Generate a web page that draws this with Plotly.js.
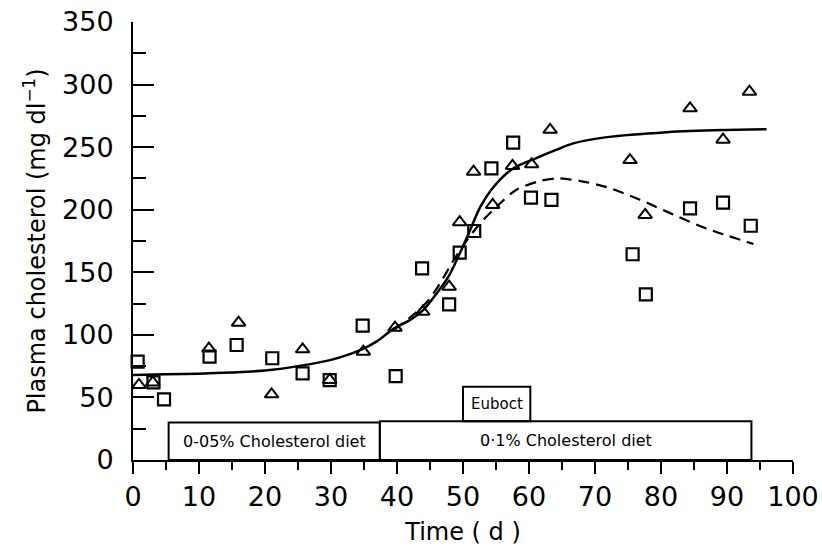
<!DOCTYPE html>
<html>
<head>
<meta charset="utf-8">
<script src="https://cdn.plot.ly/plotly-3.0.1.min.js"></script>
<style>html,body{margin:0;padding:0;background:#fff;}#chart{width:822px;height:554px;}</style>
</head>
<body>
<div id="chart"></div>
<script>
// Observed data: squares
const squareTime = [0.7, 3.1, 4.7, 11.6, 15.7, 21.1, 25.7, 29.8, 34.8, 39.8, 43.8, 47.9, 49.5, 51.7, 54.3, 57.6, 60.3, 63.4, 75.7, 77.7, 84.4, 89.4, 93.6];
const squareChol = [78.6, 62, 48.5, 82.6, 91.9, 81.3, 69.3, 63.9, 107.3, 67.1, 153.2, 124.4, 165.7, 183, 233, 253.6, 209.6, 207.8, 164.4, 132.4, 201, 205.6, 187.2];
// Observed data: triangles
const triTime = [0.9, 3.0, 11.5, 16.0, 21.0, 25.7, 29.8, 34.9, 39.7, 43.9, 47.9, 49.5, 51.6, 54.5, 57.5, 60.4, 63.2, 75.3, 77.6, 84.4, 89.4, 93.4];
const triChol = [60, 62, 89, 109.7, 52.5, 88.4, 64, 86.6, 105.7, 118.5, 138.5, 190, 230.4, 203.8, 235, 236.3, 263.8, 239.7, 195.8, 281, 256, 294.3];
// Fitted curves
const solidTime = [0, 5, 10, 15, 20, 25, 30, 34.5, 37, 39.5, 42, 44, 46, 47.8, 49.5, 51.1, 52.6, 54.6, 57.6, 61.2, 64.2, 66.7, 71.8, 80.9, 89.4, 96];
const solidChol = [68, 68.5, 69, 70, 71.5, 75, 80, 88, 95, 105, 112, 120, 133, 146.5, 165, 184, 202, 218, 233, 241.5, 248, 253, 258, 262, 263.7, 264.3];
const dashTime = [39.5, 42, 44.5, 46.5, 48.5, 50, 51.5, 53.1, 55.6, 58.1, 61.7, 64.5, 68.2, 71.8, 76.8, 81.9, 86.9, 94];
const dashChol = [104, 114, 126, 141, 159, 171, 182, 192, 205, 216, 223, 225, 222.5, 218, 208, 196, 185, 172.6];
// Treatment periods
const periodLabels = ['0-05% Cholesterol diet', '0·1% Cholesterol diet', 'Euboct'];
const periodStart = [5.4, 37.4, 50];
const periodEnd = [37.4, 93.7, 60.2];
const periodLow = [0, 0, 31];
const periodHigh = [30, 31, 58.6];
// Axis ticks
const xTicks = [0, 10, 20, 30, 40, 50, 60, 70, 80, 90, 100];
const yTicks = [0, 50, 100, 150, 200, 250, 300, 350];

const FONT = 'DejaVu Sans, sans-serif';

const traces = [
  {x: solidTime, y: solidChol, mode: 'lines', line: {color: '#000', width: 2.5, shape: 'spline', smoothing: 0.8}, hoverinfo: 'skip', cliponaxis: false},
  {x: dashTime, y: dashChol, mode: 'lines', line: {color: '#000', width: 2.2, dash: '11px,7px', shape: 'spline', smoothing: 0.8}, hoverinfo: 'skip', cliponaxis: false},
  {x: squareTime, y: squareChol, mode: 'markers', marker: {symbol: 'square-open', size: 12, color: '#000', line: {width: 2.2, color: '#000'}}, cliponaxis: false},
  {x: triTime, y: triChol, mode: 'markers', marker: {symbol: 'triangle-up-open', size: 12, color: '#000', line: {width: 2, color: '#000'}}, cliponaxis: false}
];

const shapes = periodLabels.map((l, i) => ({
  type: 'rect', xref: 'x', yref: 'y',
  x0: periodStart[i], x1: periodEnd[i], y0: periodLow[i], y1: periodHigh[i],
  line: {color: '#000', width: 2}, fillcolor: 'rgba(0,0,0,0)', layer: 'above'
}));

const annotations = periodLabels.map((l, i) => ({
  xref: 'x', yref: 'y',
  x: (periodStart[i] + periodEnd[i]) / 2, y: (periodLow[i] + periodHigh[i]) / 2,
  text: l, showarrow: false,
  font: {family: FONT, size: i === 2 ? 15 : 16, color: '#000'}
}));

const layout = {
  width: 822, height: 554,
  margin: {l: 133, r: 29, t: 22, b: 94},
  paper_bgcolor: '#fff', plot_bgcolor: '#fff',
  showlegend: false,
  font: {family: FONT, color: '#000'},
  xaxis: {
    range: [0, 100], tickvals: xTicks, ticktext: xTicks.map(String),
    showline: true, linecolor: '#000', linewidth: 2,
    ticks: 'outside', ticklen: 12, tickwidth: 2, tickcolor: '#000',
    minor: {dtick: 5, tick0: 0, ticks: 'outside', ticklen: 8, tickwidth: 2, tickcolor: '#000', showgrid: false},
    showgrid: false, zeroline: false,
    tickfont: {family: FONT, size: 27, color: '#000'},
    title: {text: 'Time ( d )', font: {family: FONT, size: 24, color: '#000'}, standoff: 12}
  },
  yaxis: {
    range: [0, 350], tickvals: yTicks, ticktext: yTicks.map(String),
    showline: true, linecolor: '#000', linewidth: 2,
    ticks: 'inside', ticklen: 21, tickwidth: 2, tickcolor: '#000',
    minor: {dtick: 25, tick0: 0, ticks: 'inside', ticklen: 13, tickwidth: 2, tickcolor: '#000', showgrid: false},
    showgrid: false, zeroline: false,
    ticklabelstandoff: 12,
    tickfont: {family: FONT, size: 27, color: '#000'},
    title: {text: 'Plasma cholesterol (mg dl<sup>−1</sup>)', font: {family: FONT, size: 24, color: '#000'}, standoff: 10}
  },
  shapes: shapes,
  annotations: annotations
};

Plotly.newPlot('chart', traces, layout, {staticPlot: true, displayModeBar: false});
</script>
</body>
</html>
